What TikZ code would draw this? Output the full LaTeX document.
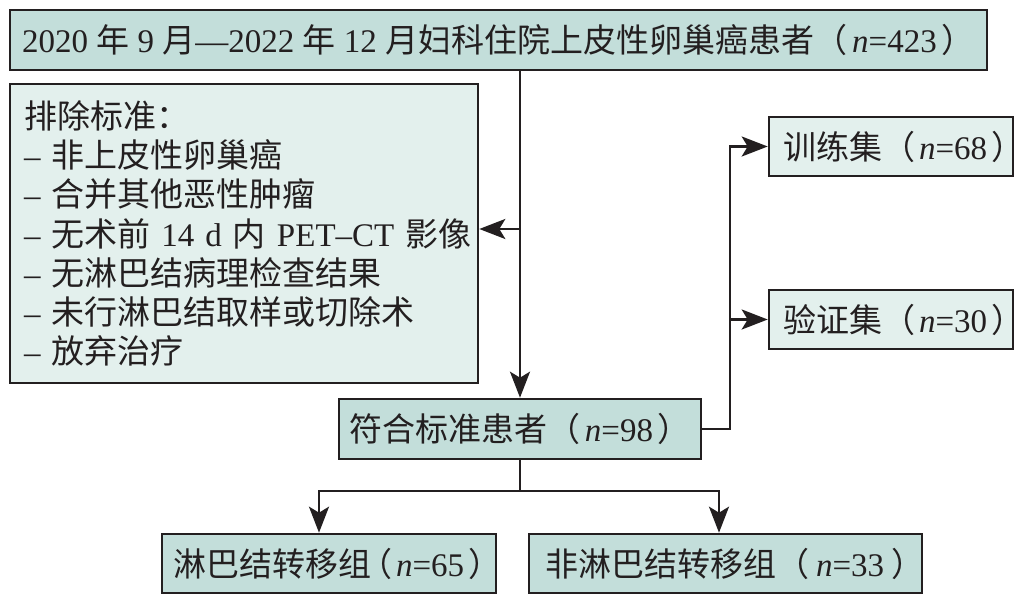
\documentclass[tikz,border=0pt]{standalone}
\usepackage{fontspec}
\setmainfont{Liberation Serif}
\newfontfamily\cjk{Noto Sans CJK SC}
\usetikzlibrary{arrows.meta,calc}
\definecolor{dk}{RGB}{195,222,218}
\definecolor{lt}{RGB}{227,240,237}
\definecolor{ln}{RGB}{35,31,32}
\newcommand\zh[1]{{\cjk #1}}
\newcommand\nn[2][4pt]{\zh{（}\hspace{#1}\textit{n}=#2\hspace{#1}\zh{）}\hspace{-14pt}}
\begin{document}
\begin{tikzpicture}[x=1pt,y=-1pt,
  box/.style={draw=ln,line width=2.6pt,inner sep=0pt,text=ln,font=\fontsize{33}{39.2}\selectfont},
  dkbox/.style={box,fill=dk},
  ltbox/.style={box,fill=lt},
  conn/.style={draw=ln,line width=2.5pt},
  arr/.style={conn,-{Stealth[length=26pt,width=20pt,inset=6pt]}}]
\useasboundingbox[fill=white] (0,0) rectangle (1026,601);
\node[dkbox,minimum width=977pt,minimum height=60pt] (top) at (498.5,40)
  {2020 \zh{年} 9 \zh{月}—2022 \zh{年} 12 \zh{月妇科住院上皮性卵巢癌患者}\nn[5pt]{423}};
\node[ltbox,minimum width=468pt,minimum height=299pt,align=left,text width=440pt] (excl) at (244,233.5)
  {\mbox{\zh{排除标准：}}\\
   \mbox{– \zh{非上皮性卵巢癌}}\\
   \mbox{– \zh{合并其他恶性肿瘤}}\\
   \mbox{– \zh{无术前} 14 d \zh{内} PET–CT \zh{影像}}\\
   \mbox{– \zh{无淋巴结病理检查结果}}\\
   \mbox{– \zh{未行淋巴结取样或切除术}}\\
   \mbox{– \zh{放弃治疗}}};
\node[dkbox,minimum width=362pt,minimum height=60pt] (mid) at (520,429)
  {\zh{符合标准患者}\nn{98}};
\node[ltbox,minimum width=244pt,minimum height=59pt,align=left,text width=216pt] (train) at (891,146.5)
  {\mbox{\zh{训练集}\nn{68}}};
\node[ltbox,minimum width=244pt,minimum height=59pt,align=left,text width=216pt] (valid) at (891,319.5)
  {\mbox{\zh{验证集}\nn{30}}};
\node[dkbox,minimum width=334pt,minimum height=59pt,align=left,text width=312pt] (lymph) at (329,563.5)
  {\mbox{\zh{淋巴结转移组}\hspace{-12pt}\nn{65}}};
\node[dkbox,minimum width=393pt,minimum height=59pt,align=left,text width=361pt] (nonlymph) at (725.5,563.5)
  {\mbox{\zh{非淋巴结转移组}\nn[7pt]{33}}};
% connectors
\draw[arr] (top.south -| mid.north) -- (mid.north);
\coordinate (j) at (520,229);
\draw[arr] (j) -- (j -| excl.east);
\coordinate (r) at (730,429);
\draw[arr] (mid.east) -- (r) |- (train.west);
\draw[arr] (r |- valid.west) -- (valid.west);
\coordinate (b) at (520,491);
\coordinate (bl) at (319,491);
\coordinate (br) at (719,491);
\draw[conn] (mid.south) -- (b);
\draw[arr] (b) -- (bl) -- (bl |- lymph.north);
\draw[arr] (b) -- (br) -- (br |- nonlymph.north);
\end{tikzpicture}
\end{document}
